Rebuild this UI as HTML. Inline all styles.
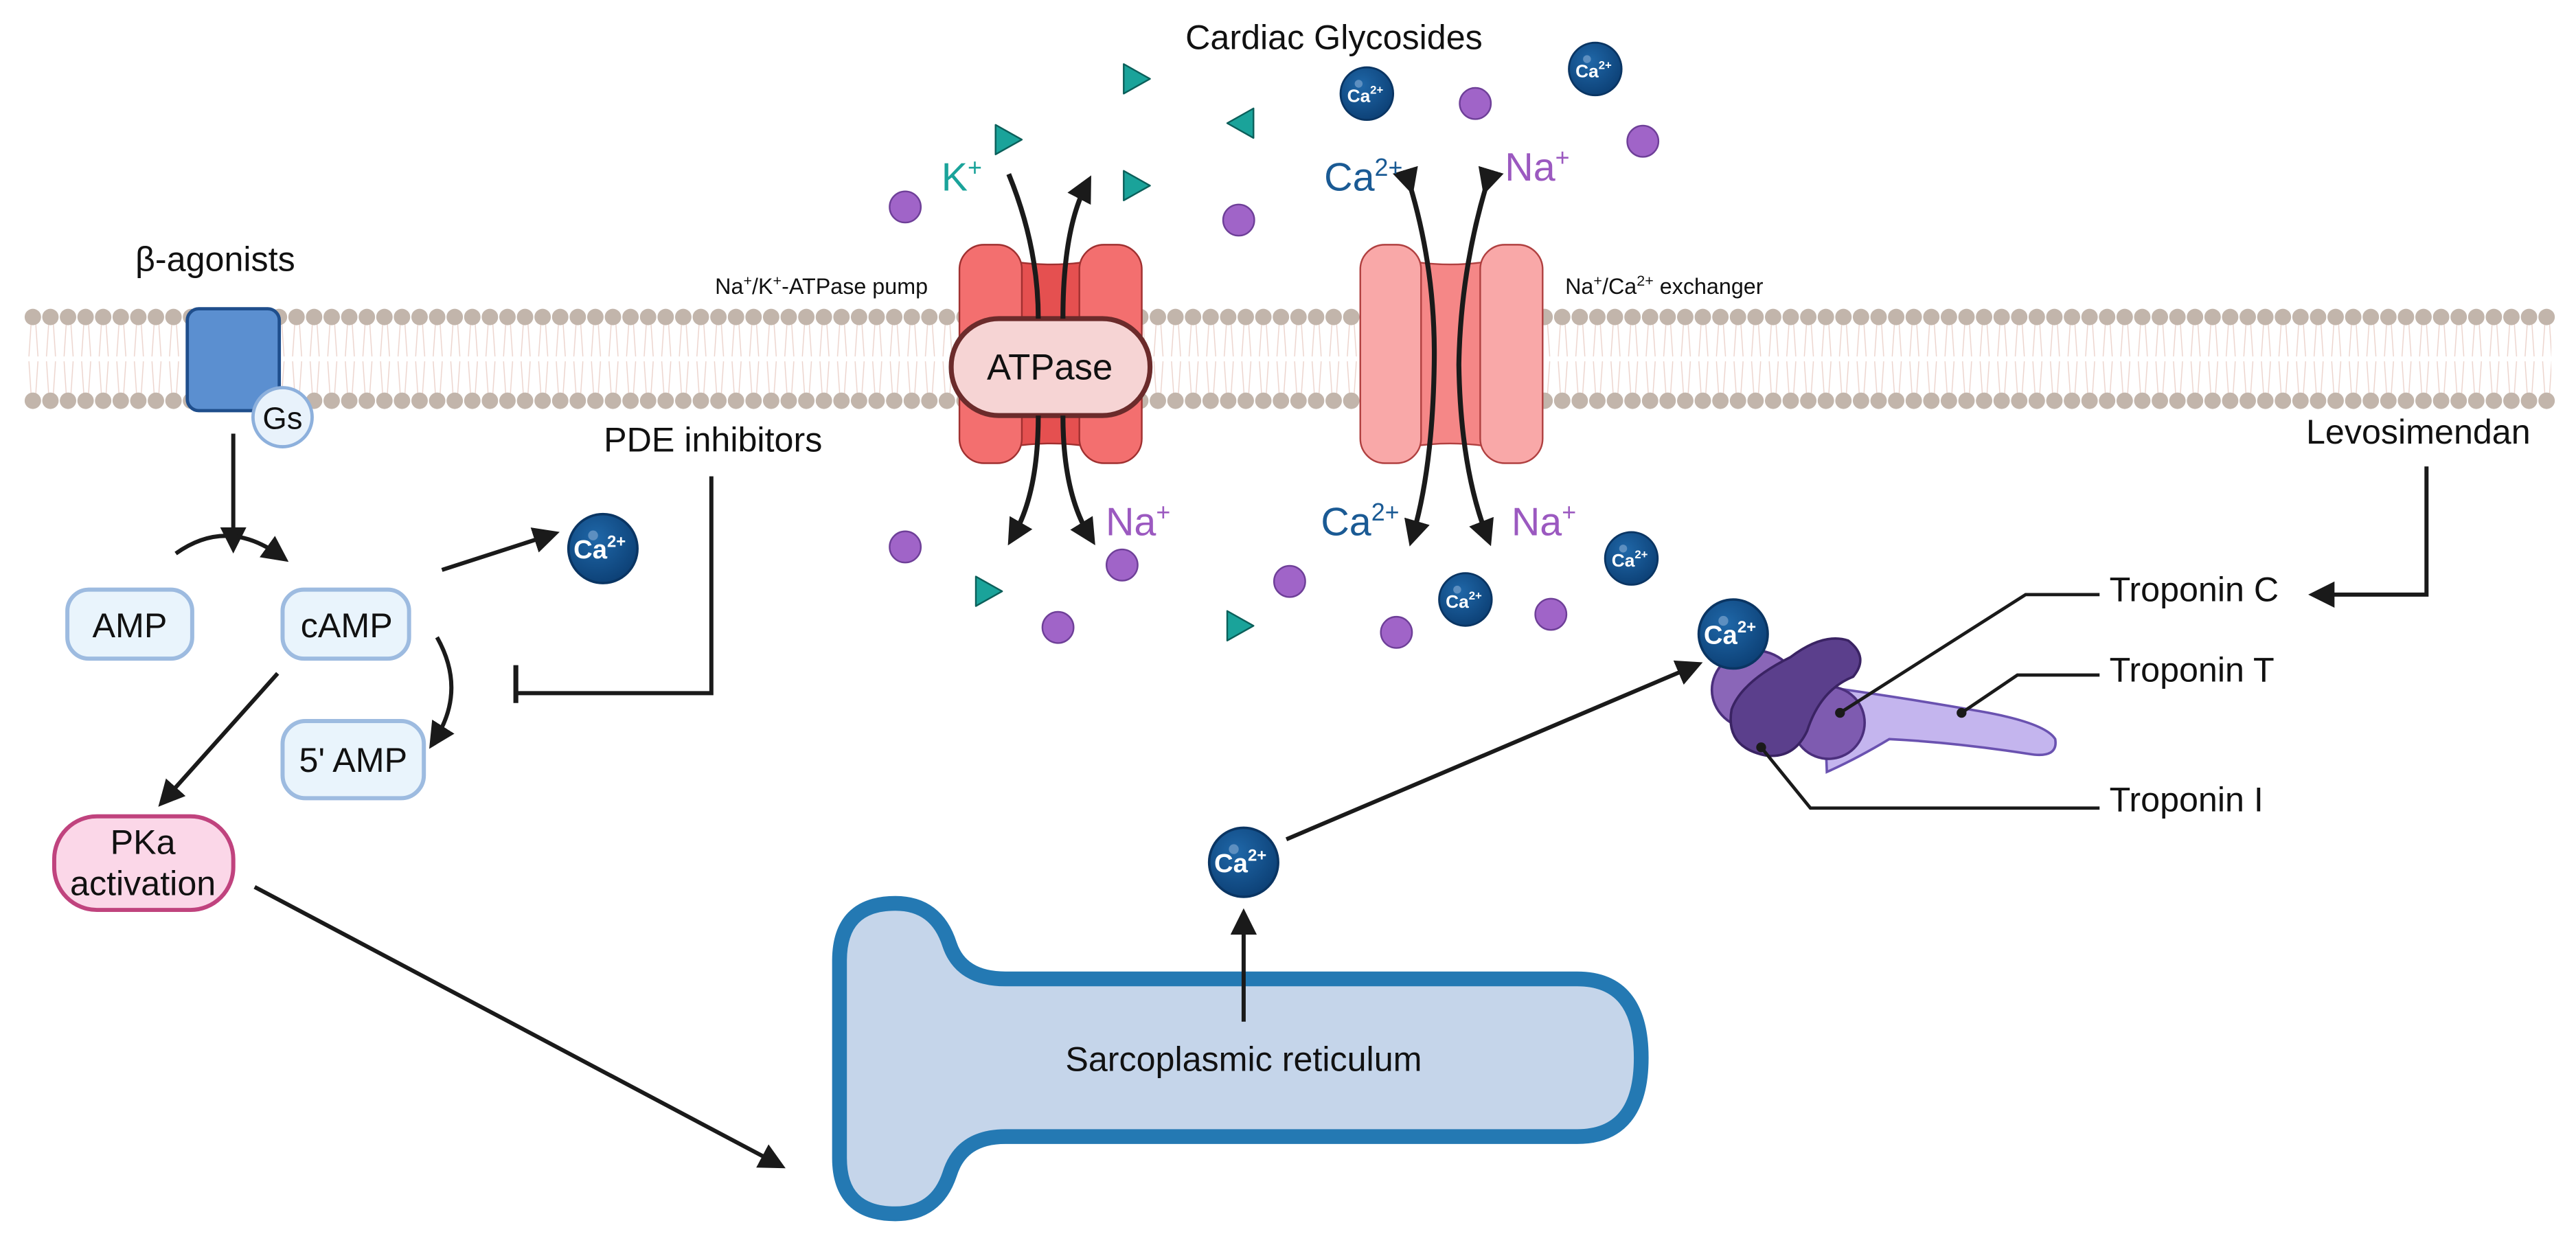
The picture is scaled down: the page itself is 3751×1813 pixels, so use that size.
<!DOCTYPE html>
<html><head><meta charset="utf-8"><style>
html,body{margin:0;padding:0;background:#fff;}
svg{display:block;}
text{font-family:"Liberation Sans",sans-serif;}
</style></head><body>
<svg width="3751" height="1813" viewBox="0 0 1568 758" preserveAspectRatio="none" xmlns="http://www.w3.org/2000/svg">
<defs>
<pattern id="lip" x="15" y="192" width="10.7" height="53" patternUnits="userSpaceOnUse">
<g stroke="#ecd3cc" stroke-width="0.6" fill="none">
<path d="M4 4 L2.6 25 M6.7 4 L8.1 25 M2.6 28 L4 49 M8.1 28 L6.7 49"/>
</g>
</pattern>
<marker id="ahb" markerWidth="16" markerHeight="16" refX="9" refY="8" orient="auto" markerUnits="userSpaceOnUse" viewBox="0 0 16 16">
<path d="M0 0 L16 8 L0 16 Z" fill="#1a1a1a"/>
</marker>
<radialGradient id="cag" cx="0.4" cy="0.35" r="0.7">
<stop offset="0" stop-color="#1f67a8"/><stop offset="1" stop-color="#0c3f74"/>
</radialGradient>
<g id="ca"><circle r="21" fill="url(#cag)" stroke="#0a3563" stroke-width="1.5"/><circle cx="-6" cy="-8" r="3" fill="#5d8fc0"/><text x="-2" y="6" font-size="16" fill="#fff" text-anchor="middle" font-weight="bold">Ca<tspan font-size="10" dy="-7">2+</tspan></text></g>
<g id="cas"><circle r="16" fill="url(#cag)" stroke="#0a3563" stroke-width="1.2"/><circle cx="-5" cy="-6" r="2.4" fill="#5d8fc0"/><text x="-1" y="5" font-size="11" fill="#fff" text-anchor="middle" font-weight="bold">Ca<tspan font-size="7" dy="-5">2+</tspan></text></g>
<g id="na"><circle r="9.5" fill="#a064c8" stroke="#6e3f98" stroke-width="1"/></g>
<g id="tr"><path d="M-7 -9 L9 0 L-7 9 Z" fill="#1aa39a" stroke="#0b5f5a" stroke-width="1" stroke-linejoin="round"/></g>
</defs>

<!-- membrane -->
<rect x="15" y="192" width="1538" height="53" fill="url(#lip)"/>
<line x1="20" y1="193" x2="1553" y2="193" stroke="#c2b5ab" stroke-width="10" stroke-dasharray="0 10.7" stroke-linecap="round"/>
<line x1="20" y1="244" x2="1553" y2="244" stroke="#c2b5ab" stroke-width="10" stroke-dasharray="0 10.7" stroke-linecap="round"/>

<!-- title labels -->
<text x="812" y="30" font-size="21" text-anchor="middle" fill="#111">Cardiac Glycosides</text>
<text x="131" y="165" font-size="21" text-anchor="middle" fill="#111">β-agonists</text>
<text x="500" y="179" font-size="13.5" text-anchor="middle" fill="#111">Na<tspan font-size="9" dy="-5">+</tspan><tspan dy="5">/K</tspan><tspan font-size="9" dy="-5">+</tspan><tspan dy="5">-ATPase pump</tspan></text>
<text x="1013" y="179" font-size="13.5" text-anchor="middle" fill="#111">Na<tspan font-size="9" dy="-5">+</tspan><tspan dy="5">/Ca</tspan><tspan font-size="9" dy="-5">2+</tspan><tspan dy="5"> exchanger</tspan></text>
<text x="434" y="275" font-size="21" text-anchor="middle" fill="#111">PDE inhibitors</text>
<text x="1472" y="270" font-size="21" text-anchor="middle" fill="#111">Levosimendan</text>

<!-- receptor -->
<rect x="114" y="188" width="56" height="62" rx="7" fill="#5b8fd0" stroke="#1f4e8c" stroke-width="2"/>
<circle cx="172" cy="254" r="18" fill="#e8f2fb" stroke="#8db0dc" stroke-width="2"/>
<text x="172" y="261" font-size="19" text-anchor="middle" fill="#111">Gs</text>

<!-- left pathway -->
<line x1="142" y1="264" x2="142" y2="330" stroke="#1a1a1a" stroke-width="2.5" marker-end="url(#ahb)"/>
<path d="M107 337 Q138 315 170 338" fill="none" stroke="#1a1a1a" stroke-width="2.5" marker-end="url(#ahb)"/>
<rect x="41" y="359" width="76" height="42" rx="13" fill="#e9f4fc" stroke="#9dbbe0" stroke-width="2.5"/>
<text x="79" y="388" font-size="21" text-anchor="middle" fill="#111">AMP</text>
<rect x="172" y="359" width="77" height="42" rx="13" fill="#e9f4fc" stroke="#9dbbe0" stroke-width="2.5"/>
<text x="211" y="388" font-size="21" text-anchor="middle" fill="#111">cAMP</text>
<rect x="172" y="439" width="86" height="47" rx="14" fill="#e9f4fc" stroke="#9dbbe0" stroke-width="2.5"/>
<text x="215" y="470" font-size="21" text-anchor="middle" fill="#111">5' AMP</text>
<rect x="33" y="497" width="109" height="57" rx="26" fill="#fbd7e8" stroke="#c0437e" stroke-width="2.5"/>
<text x="87" y="520" font-size="21" text-anchor="middle" fill="#111">PKa</text>
<text x="87" y="545" font-size="21" text-anchor="middle" fill="#111">activation</text>
<line x1="269" y1="347" x2="334" y2="326" stroke="#1a1a1a" stroke-width="2.5" marker-end="url(#ahb)"/>
<use href="#ca" x="367" y="334"/>
<path d="M266 388 Q284 420 265 450" fill="none" stroke="#1a1a1a" stroke-width="2.5" marker-end="url(#ahb)"/>
<line x1="169" y1="410" x2="101" y2="486" stroke="#1a1a1a" stroke-width="2.5" marker-end="url(#ahb)"/>
<path d="M433 290 V422 H314" fill="none" stroke="#1a1a1a" stroke-width="2.5"/>
<line x1="314" y1="405" x2="314" y2="428" stroke="#1a1a1a" stroke-width="3"/>
<line x1="155" y1="540" x2="472" y2="708" stroke="#1a1a1a" stroke-width="2.5" marker-end="url(#ahb)"/>

<!-- SR -->
<path d="M511 705 V585 Q511 550 545 550 Q570 550 578 575 Q585 596 612 596 H960 Q999 596 999 644 Q999 692 960 692 H612 Q585 692 578 715 Q570 739 545 739 Q511 739 511 705 Z" fill="#c5d5ea" stroke="#2479b3" stroke-width="9" stroke-linejoin="round"/>
<text x="757" y="652" font-size="21" text-anchor="middle" fill="#111">Sarcoplasmic reticulum</text>
<line x1="757" y1="622" x2="757" y2="560" stroke="#1a1a1a" stroke-width="2.5" marker-end="url(#ahb)"/>
<use href="#ca" x="757" y="525"/>
<line x1="783" y1="511" x2="1030" y2="406" stroke="#1a1a1a" stroke-width="2.5" marker-end="url(#ahb)"/>

<!-- ATPase pump -->
<g stroke="#a03030" stroke-width="1">
<path d="M615 159 Q640 163 664 159 L664 272 Q640 268 615 272 Z" fill="#e55050"/>
<rect x="584" y="149" width="38" height="133" rx="15" fill="#f36f6f"/>
<rect x="657" y="149" width="38" height="133" rx="15" fill="#f36f6f"/>
</g>
<rect x="579" y="194" width="121" height="59" rx="29" fill="#f6d4d4" stroke="#6b2b2b" stroke-width="3"/>
<text x="639" y="231" font-size="22" text-anchor="middle" fill="#111">ATPase</text>
<!-- exchanger -->
<g stroke="#b04040" stroke-width="1">
<path d="M858 159 Q883 163 907 159 L907 272 Q883 268 858 272 Z" fill="#f58787"/>
<rect x="828" y="149" width="37" height="133" rx="15" fill="#f9a8a8"/>
<rect x="901" y="149" width="38" height="133" rx="15" fill="#f9a8a8"/>
</g>

<!-- pump arrows -->
<g fill="none" stroke="#1a1a1a" stroke-width="3">
<path d="M614 106 Q632 150 632 194"/>
<path d="M632 253 Q632 300 617 326" marker-end="url(#ahb)"/>
<path d="M647 194 Q647 140 661 113" marker-end="url(#ahb)"/>
<path d="M647 253 Q647 300 663 326" marker-end="url(#ahb)"/>
<path d="M858 112 Q874 165 873 222 Q872 285 860 326" marker-end="url(#ahb)" marker-start="url(#ahb)"/>
<path d="M905 112 Q889 165 888 222 Q889 285 905 326" marker-end="url(#ahb)" marker-start="url(#ahb)"/>
</g>

<!-- ion labels -->
<g font-size="24">
<text x="573" y="116" fill="#1aa39a">K<tspan font-size="15" dy="-9">+</tspan></text>
<text x="673" y="326" fill="#9b59c0">Na<tspan font-size="15" dy="-9">+</tspan></text>
<text x="806" y="116" fill="#1a5a94">Ca<tspan font-size="15" dy="-9">2+</tspan></text>
<text x="916" y="110" fill="#9b59c0">Na<tspan font-size="15" dy="-9">+</tspan></text>
<text x="804" y="326" fill="#1a5a94">Ca<tspan font-size="15" dy="-9">2+</tspan></text>
<text x="920" y="326" fill="#9b59c0">Na<tspan font-size="15" dy="-9">+</tspan></text>
</g>

<!-- ions -->
<use href="#na" x="551" y="126"/><use href="#na" x="754" y="134"/><use href="#na" x="898" y="63"/><use href="#na" x="1000" y="86"/>
<use href="#na" x="551" y="333"/><use href="#na" x="683" y="344"/><use href="#na" x="644" y="382"/><use href="#na" x="785" y="354"/><use href="#na" x="850" y="385"/><use href="#na" x="944" y="374"/>
<use href="#tr" x="691" y="48"/><use href="#tr" x="613" y="85"/><use href="#tr" x="691" y="113"/>
<g transform="translate(756 75) rotate(180)"><use href="#tr"/></g>
<use href="#tr" x="601" y="360"/><use href="#tr" x="754" y="381"/>
<use href="#cas" x="832" y="57"/><use href="#cas" x="971" y="42"/><use href="#cas" x="993" y="340"/><use href="#cas" x="892" y="365"/>

<!-- troponin -->
<path d="M1110 418 Q1160 425 1205 433 Q1245 440 1251 450 Q1253 462 1235 459 Q1190 452 1150 450 Q1130 462 1112 470 Z" fill="#c4b5ee" stroke="#6a52b0" stroke-width="1.5"/>
<ellipse cx="1068" cy="420" rx="26" ry="24" fill="#8a66b8" stroke="#4b2f7c" stroke-width="1.5"/>
<ellipse cx="1113" cy="440" rx="22" ry="22" fill="#7e5bb0" stroke="#4b2f7c" stroke-width="1.5"/>
<path d="M1090 400 Q1110 385 1125 390 Q1138 400 1128 412 Q1108 420 1100 445 Q1092 462 1075 460 Q1050 455 1054 432 Q1060 415 1090 400 Z" fill="#5b3f8c" stroke="#3a2363" stroke-width="1.5"/>
<use href="#ca" x="1055" y="386"/>
<g stroke="#1a1a1a" stroke-width="2" fill="none">
<path d="M1120 434 L1233 362 L1278 362"/>
<path d="M1194 434 L1228 411 L1278 411"/>
<path d="M1072 455 L1102 492 L1278 492"/>
</g>
<circle cx="1120" cy="434" r="3" fill="#1a1a1a"/><circle cx="1194" cy="434" r="3" fill="#1a1a1a"/><circle cx="1072" cy="455" r="3" fill="#1a1a1a"/>
<text x="1284" y="366" font-size="21" fill="#111">Troponin C</text>
<text x="1284" y="415" font-size="21" fill="#111">Troponin T</text>
<text x="1284" y="494" font-size="21" fill="#111">Troponin I</text>
<path d="M1477 284 V362 H1412" fill="none" stroke="#1a1a1a" stroke-width="2.5" marker-end="url(#ahb)"/>
</svg>
</body></html>
